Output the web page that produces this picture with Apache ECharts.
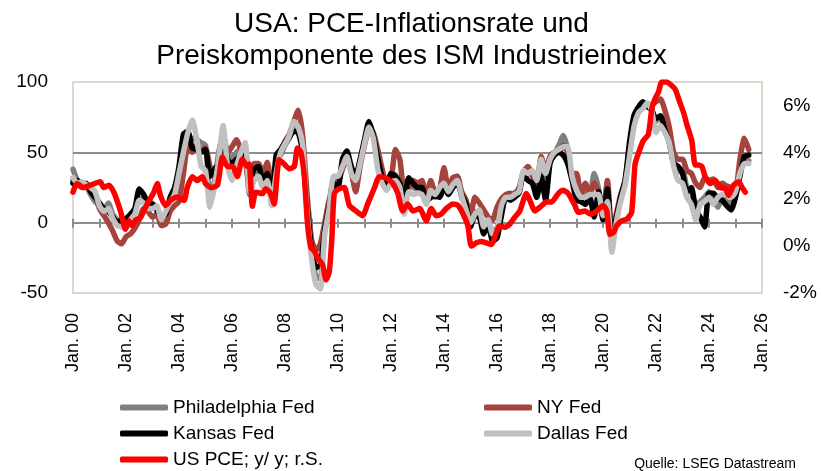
<!DOCTYPE html>
<html>
<head>
<meta charset="utf-8">
<script src="https://cdn.jsdelivr.net/npm/echarts@6.0.0/dist/echarts.min.js"></script>
<style>
  html, body { margin: 0; background: #fff; }
  #chart { width: 823px; height: 471px; }
</style>
</head>
<body>
<div id="chart"></div>
<script>
// regional Fed price indices, one value every two months from Jan 2000
const startYear = 2000;
const stepsPerYear = 6;

const philadelphia = [
  38, 30, 27, 26, 20, 15,
  12, 9, 14, 6, 2, 0,
  0, 5, 10, 15, 18, 12,
  14, 8, 2, 5, 16, 22,
  30, 45, 55, 60, 59, 57,
  55, 23, 28, 50, 62, 50,
  45, 50, 52, 48, 20, 32,
  36, 28, 32, 14, 42, 48,
  55, 60, 68, 70, 52, 10,
  -20, -38, -40, -4, 14, 30,
  30, 42, 48, 38, 30, 44,
  57, 70, 63, 44, 30, 24,
  32, 34, 26, 10, 28, 25,
  24, 26, 14, 22, 18, 22,
  27, 20, 30, 33, 18, 12,
  0, 8, 6, -4, 0, -6,
  -4, 10, 19, 17, 21, 24,
  34, 36, 35, 26, 42, 33,
  44, 49, 55, 62, 52, 32,
  25, 17, 20, 20, 35, 24,
  4, 20, -15, 2, 17, 28,
  50, 70, 79, 84, 82, 81,
  72, 75, 70, 60, 45, 36,
  38, 25, 22, 12, 15, 18,
  22, 16, 11, 18, 15, 14,
  20, 35, 45, 44,
];

const newYork = [
  30, 27, 25, 27, 24, 20,
  10, 5, 0, -6, -13, -15,
  -10, -8, -4, 2, 10, 8,
  4, 6, -2, -1, 8, 12,
  15, 35, 54, 50, 55, 52,
  53, 40, 32, 45, 57, 50,
  54, 59, 52, 45, 25, 42,
  42, 35, 43, 25, 40, 50,
  58, 63, 72, 80, 62, 20,
  -12, -20, -15, 0, 16, 24,
  28, 38, 45, 36, 22, 40,
  55, 66, 64, 52, 38, 26,
  30, 52, 45, 22, 25, 30,
  28, 30, 18, 30, 22, 24,
  39, 24, 32, 33, 22, 16,
  5, 18, 14, 9, 4, 2,
  11, 17, 20, 21, 20, 25,
  36, 40, 33, 28, 47, 38,
  47, 50, 50, 55, 50, 35,
  35, 20, 28, 20, 28, 22,
  8, 30, -8, 6, 20, 30,
  52, 70, 80, 83, 83, 84,
  86, 88, 80, 68, 50, 45,
  45, 37, 35, 28, 25, 32,
  30, 31, 25, 28, 26, 25,
  24, 45, 60, 52,
];

const kansas = [
  28, 30, 26, 28, 22, 18,
  14, 10, 8, 4, 0, 2,
  3, 6, 10, 24, 20, 14,
  13, 9, 4, 6, 18, 25,
  40, 63, 65, 53, 52, 50,
  52, 33, 38, 42, 59, 45,
  42, 45, 47, 50, 30, 38,
  40, 30, 35, 18, 48, 52,
  57, 61, 65, 64, 50, 12,
  -18, -32, -30, -5, 12, 28,
  25, 45, 51, 40, 33, 45,
  59, 72, 62, 46, 32, 25,
  35, 33, 28, 15, 32, 28,
  25, 25, 15, 18, 19, 18,
  25, 20, 25, 28, 20, 13,
  -3, 5, 4, -8, -1, -13,
  -11, 5, 18, 16, 18, 21,
  35, 30, 28, 18, 33, 16,
  42, 48, 50, 48, 42, 30,
  16, 15, 13, 18, 4, 22,
  2, 24, -11, 3, 18, 30,
  57, 76, 82, 86, 83, 80,
  74, 76, 66, 57, 42, 40,
  35, 22, 25, 9, 4, -3,
  21, 21, 17, 16, 12, 9,
  18, 33, 47, 48,
];

const dallas = [
  32, 28, 29, 27, 25, 22,
  12, 8, 10, 3, -2, -3,
  -4, 2, 6, 16, 14, 10,
  10, 12, 2, 8, 15, 20,
  35, 50, 64, 73, 60, 40,
  37, 11, 25, 45, 69, 40,
  30, 40, 50, 57, 22, 30,
  33, 25, 30, 12, 35, 50,
  56, 62, 72, 68, 55, 8,
  -25, -44, -47, -8, 10, 33,
  33, 40, 47, 35, 30, 42,
  56, 68, 60, 38, 28, 23,
  28, 30, 25, 6, 22, 20,
  21, 20, 13, 23, 20, 25,
  28, 22, 27, 30, 19, 9,
  0, 6, 9, -3, 2, -8,
  -5, 12, 18, 18, 20, 22,
  37, 35, 37, 30, 45, 35,
  45, 50, 52, 54, 54, 33,
  23, 18, 18, 20, 20, 20,
  5, 15, -21, 0, 15, 27,
  47, 68, 78, 81, 85, 80,
  64, 69, 64, 57, 40, 30,
  28, 18, 13, 2, 13, 15,
  18, 13, 18, 20, 20, 18,
  22, 35, 42, 42,
];

// US PCE inflation y/y in %, [year, value]
const pce = [
  [2000.0, 2.3], [2000.15, 2.67], [2000.4, 2.5], [2000.66, 2.6], [2001.03, 2.74],
  [2001.16, 2.5], [2001.35, 2.6], [2001.54, 2.3], [2001.79, 1.5], [2001.98, 0.72],
  [2002.1, 1.08], [2002.23, 0.87], [2002.36, 1.1], [2002.55, 1.23], [2002.8, 1.8],
  [2003.05, 2.3], [2003.18, 2.67], [2003.3, 2.16], [2003.49, 1.73], [2003.68, 1.95],
  [2003.93, 2.1], [2004.19, 1.95], [2004.31, 2.5], [2004.5, 2.96], [2004.69, 2.8],
  [2004.88, 2.96], [2005.0, 2.67], [2005.2, 2.5], [2005.45, 2.6], [2005.64, 3.8],
  [2005.83, 3.4], [2006.02, 3.4], [2006.2, 2.96], [2006.39, 3.7], [2006.58, 3.4],
  [2006.65, 3.5], [2006.77, 1.7], [2006.9, 2.3], [2007.15, 2.24], [2007.27, 2.45],
  [2007.46, 2.24], [2007.59, 1.8], [2007.78, 3.68], [2007.97, 3.5], [2008.16, 3.3],
  [2008.35, 3.4], [2008.47, 4.18], [2008.6, 4.0], [2008.73, 2.96], [2008.85, 0.94],
  [2008.98, -0.07], [2009.1, -0.2], [2009.23, -0.5], [2009.42, -0.8], [2009.55, -1.44],
  [2009.67, -1.1], [2009.77, 0.36], [2009.86, 2.24], [2010.05, 2.45], [2010.24, 2.5],
  [2010.43, 1.73], [2010.68, 1.5], [2010.93, 1.3], [2011.12, 1.8], [2011.38, 2.5],
  [2011.56, 2.96], [2011.82, 2.9], [2012.07, 2.67], [2012.26, 2.24], [2012.44, 1.5],
  [2012.63, 1.8], [2012.83, 1.5], [2013.08, 1.6], [2013.33, 1.08], [2013.52, 1.6],
  [2013.71, 1.3], [2013.9, 1.37], [2014.08, 1.6], [2014.34, 1.8], [2014.53, 1.73],
  [2014.72, 1.37], [2014.9, 0.87], [2015.03, 0.0], [2015.22, 0.14], [2015.41, 0.2],
  [2015.6, 0.14], [2015.79, 0.07], [2015.91, 0.36], [2016.1, 0.87], [2016.29, 0.8],
  [2016.48, 0.94], [2016.67, 1.23], [2016.86, 1.5], [2017.11, 2.24], [2017.24, 1.95],
  [2017.43, 1.5], [2017.62, 1.66], [2017.87, 1.88], [2018.06, 1.88], [2018.31, 2.24],
  [2018.5, 2.38], [2018.69, 2.24], [2018.94, 1.73], [2019.07, 1.44], [2019.32, 1.5],
  [2019.5, 1.37], [2019.7, 1.44], [2020.01, 1.73], [2020.14, 1.5], [2020.26, 0.5],
  [2020.39, 0.58], [2020.52, 0.87], [2020.71, 1.08], [2020.9, 1.15], [2021.08, 1.44],
  [2021.21, 3.5], [2021.34, 3.97], [2021.52, 4.5], [2021.71, 4.76], [2021.84, 5.84],
  [2021.96, 6.28], [2022.09, 6.56], [2022.22, 7.0], [2022.41, 7.0], [2022.54, 6.9],
  [2022.72, 6.7], [2022.91, 6.1], [2023.04, 5.7], [2023.16, 5.2], [2023.35, 4.5],
  [2023.48, 3.46], [2023.6, 3.46], [2023.73, 3.4], [2023.86, 2.96], [2024.05, 2.67],
  [2024.24, 2.8], [2024.43, 2.5], [2024.62, 2.45], [2024.74, 2.16], [2024.93, 2.6],
  [2025.12, 2.74], [2025.25, 2.5], [2025.37, 2.3],
];

const tickLabels = [
  "Jan. 00", "Jan. 02", "Jan. 04", "Jan. 06", "Jan. 08", "Jan. 10", "Jan. 12",
  "Jan. 14", "Jan. 16", "Jan. 18", "Jan. 20", "Jan. 22", "Jan. 24", "Jan. 26",
];

const font = '"Liberation Sans", Arial, sans-serif';
const gridGray = "#8c8c8c";

function withDates(values) {
  return values.map((v, i) => [startYear + i / stepsPerYear, v]);
}

function fedSeries(name, color, values) {
  return {
    name,
    type: "line",
    xAxisIndex: 0,
    yAxisIndex: 0,
    showSymbol: false,
    smooth: 0.2,
    color,
    lineStyle: { width: 5.5, color, cap: "round", join: "round" },
    data: withDates(values),
  };
}

function legendAt(name, left, top) {
  return {
    data: [name],
    left,
    top,
    padding: 0,
    icon: "roundRect",
    itemWidth: 48,
    itemHeight: 6,
    textStyle: { fontFamily: font, fontSize: 19, color: "#000" },
  };
}

const chart = echarts.init(document.getElementById("chart"));

chart.setOption({
  animation: false,
  textStyle: { fontFamily: font },
  title: [
    {
      text: "USA: PCE-Inflationsrate und\nPreiskomponente des ISM Industrieindex",
      left: "center",
      top: 3,
      textStyle: { fontFamily: font, fontSize: 28, fontWeight: "normal", lineHeight: 32, color: "#000" },
    },
    {
      text: "Quelle: LSEG Datastream",
      right: 22,
      top: 452,
      textStyle: { fontFamily: font, fontSize: 14, fontWeight: "normal", color: "#000" },
    },
  ],
  legend: [
    legendAt("Philadelphia Fed", 120, 398),
    legendAt("NY Fed", 484, 398),
    legendAt("Kansas Fed", 120, 424),
    legendAt("Dallas Fed", 484, 424),
    legendAt("US PCE; y/ y; r.S.", 120, 450),
  ],
  grid: {
    left: 73,
    right: 61,
    top: 82,
    bottom: 178,
    show: true,
    borderColor: "#dcd9cc",
    borderWidth: 2,
  },
  xAxis: [
    {
      type: "value",
      min: 2000,
      max: 2026,
      interval: 1,
      axisLine: { onZero: true, onZeroAxisIndex: 0, lineStyle: { color: gridGray, width: 2 } },
      axisTick: { inside: false, length: 5, lineStyle: { color: gridGray, width: 2 } },
      splitLine: { show: false },
      axisLabel: {
        rotate: 90,
        margin: 20,
        fontSize: 18,
        color: "#000",
        fontFamily: font,
        formatter: (v) => ((v - 2000) % 2 === 0 ? tickLabels[(v - 2000) / 2] : ""),
      },
    },
    {
      type: "value",
      position: "bottom",
      min: 2000,
      max: 2026,
      interval: 1,
      axisLine: { onZero: true, onZeroAxisIndex: 0, lineStyle: { color: gridGray, width: 2 } },
      axisTick: { inside: true, length: 4, lineStyle: { color: gridGray, width: 2 } },
      splitLine: { show: false },
      axisLabel: { show: false },
    },
  ],
  yAxis: [
    {
      type: "value",
      min: -50,
      max: 100,
      interval: 50,
      axisLine: { show: false },
      axisTick: { show: false },
      splitLine: {
        lineStyle: { color: ["rgba(0,0,0,0)", "rgba(0,0,0,0)", gridGray, "rgba(0,0,0,0)"], width: 2 },
      },
      axisLabel: { margin: 25, fontSize: 19, color: "#000", fontFamily: font },
    },
    {
      type: "value",
      min: -2,
      max: 7,
      interval: 2,
      axisLine: { show: false },
      axisTick: { show: false },
      splitLine: { show: false },
      axisLabel: {
        margin: 21,
        fontSize: 19,
        color: "#000",
        fontFamily: font,
        showMaxLabel: false,
        formatter: "{value}%",
      },
    },
  ],
  series: [
    fedSeries("Philadelphia Fed", "#808080", philadelphia),
    fedSeries("NY Fed", "#a5433d", newYork),
    fedSeries("Kansas Fed", "#000000", kansas),
    fedSeries("Dallas Fed", "#c0c0c0", dallas),
    {
      name: "US PCE; y/ y; r.S.",
      type: "line",
      xAxisIndex: 0,
      yAxisIndex: 1,
      showSymbol: false,
      smooth: 0.2,
      color: "#ff0000",
      lineStyle: { width: 5.5, color: "#ff0000", cap: "round", join: "round" },
      data: pce,
    },
  ],
});
</script>
</body>
</html>
